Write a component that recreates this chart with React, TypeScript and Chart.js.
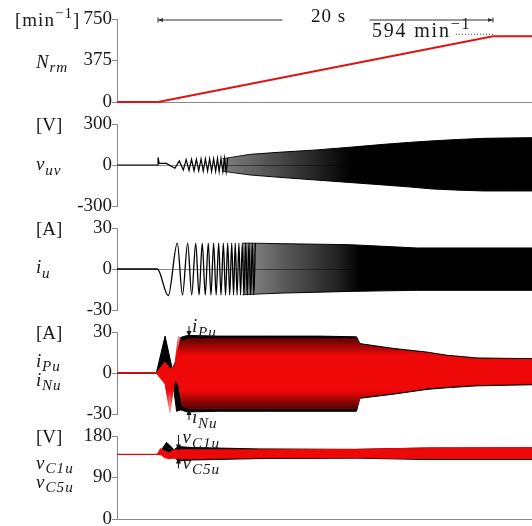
import React, { useEffect, useRef } from 'react';
import { Chart, registerables } from 'chart.js';
Chart.register(...registerables);

// ---------- time axis (seconds) ----------
const X_MAX = 24.78;
const RAMP_START = 2.45;
const RAMP_END = 22.45;
const N_PEAK = 594;

// ---------- panel 1: N_rm [min^-1] ----------
const NRM_T = [0, 2.45, 22.45, 24.78];
const NRM_V = [0, 0, 594, 594];
const NRM_TICKS = [0, 375, 750];

// ---------- panel 2: v_uv [V] ----------
const VUV_WAVE_T = [0, 2.45, 2.45, 2.52, 2.95, 3.46, 3.72, 3.96, 4.13, 4.30, 4.45, 4.60, 4.74, 4.88, 5.02, 5.15, 5.28, 5.41, 5.53, 5.65, 5.77, 5.89, 6.00, 6.10, 6.21, 6.32, 6.42, 6.52, 6.62];
const VUV_WAVE_V = [0, 0, 55, 12, 12, -24, 30, -36, 40, -40, 42, -42, 42, -42, 44, -44, 44, -44, 46, -46, 46, -46, 48, -48, 48, -48, 50, -50, 50];
const VUV_ENV_T = [6.30, 7.94, 9.90, 11.90, 13.90, 15.90, 17.40, 18.90, 20.40, 21.90, 23.40, 24.78];
const VUV_ENV_HI = [46, 78, 95, 110, 130, 151, 165, 177, 187, 195, 198, 200];
const VUV_ENV_LO = [-46, -73, -92, -110, -128, -146, -160, -176, -184, -190, -190, -190];
const VUV_TICKS = [-300, 0, 300];

// ---------- panel 3: i_u [A] ----------
const IU_WAVE_T = [0, 2.41, 3.06, 3.60, 3.91, 4.22, 4.46, 4.70, 4.90, 5.09, 5.27, 5.45, 5.61, 5.77, 5.92, 6.07, 6.21, 6.35, 6.48, 6.61, 6.73, 6.85, 6.96, 7.06, 7.17, 7.28, 7.38, 7.48, 7.58, 7.68, 7.78, 7.88, 7.98, 8.08, 8.17, 8.26];
const IU_WAVE_V = [0, 0, -19.5, 19, -19, 19, -19, 19, -19, 19, -19, 19, -19, 19, -19, 19, -19, 19, -19, 19, -19, 19, -19, 19, -19, 19, -19, 19, -19, 19, -19, 19, -19, 19, -19, 19];
const IU_ENV_T = [7.5, 9.9, 13.9, 15.9, 17.9, 24.78];
const IU_ENV_HI = [19.0, 18.5, 17.8, 16.6, 15.4, 15.4];
const IU_ENV_LO = [-18.8, -17.6, -16.4, -16.0, -15.6, -15.6];
const IU_TICKS = [-30, 0, 30];

// ---------- panel 4: i_Pu (black), i_Nu (red) [A] ----------
const IPU_T = [0, 2.35, 2.87, 3.30, 3.56, 3.80, 4.20, 6.00, 9.00, 12.00, 14.30, 14.50, 16.50, 18.50, 19.70, 21.50, 24.78];
const IPU_HI = [0, 0, 27, 3, 10, 26, 27.5, 27, 27, 27, 26.5, 21.5, 18, 15.3, 13, 11, 10.5];
const IPU_LO = [0, 0, 0, -3, -28, -27, -28.5, -28, -28, -28, -28, -18.5, -15.5, -12, -10.8, -9.4, -8.6];
const INU_T = [0, 2.35, 2.60, 2.87, 3.16, 3.45, 3.66, 3.90, 4.20, 6.00, 9.00, 12.00, 14.30, 14.50, 16.50, 18.50, 19.70, 21.50, 24.78];
const INU_HI = [0, 0, 4, 8, 3, 5, 27, 23, 25, 25, 25, 25, 25, 20.7, 17.1, 14.6, 12.2, 10.2, 9.8];
const INU_LO = [0, 0, -4, -8, -29, -5, -8, -24, -26, -26, -26, -26, -26, -17.6, -14.6, -11, -9.8, -8.5, -7.8];
const IPN_TICKS = [-30, 0, 30];

// ---------- panel 5: v_C1u (black), v_C5u (red) [V] ----------
const VC1_T = [0, 2.55, 2.75, 2.95, 3.15, 3.40, 3.65, 4.50, 8.50, 14.30, 18.50, 24.78];
const VC1_HI = [140, 140, 155, 166, 160, 150, 157, 155, 152, 151, 154, 154];
const VC1_LO = [140, 140, 140, 141, 140, 134, 126, 128, 131, 132, 129, 129];
const VC5_T = [0, 2.40, 2.60, 2.85, 3.10, 3.40, 3.70, 4.50, 8.50, 14.30, 18.50, 24.78];
const VC5_HI = [140, 140, 153, 147, 143, 150, 150, 150, 150, 151, 154, 155];
const VC5_LO = [140, 140, 140, 133, 131, 132, 130, 131, 133, 133, 131, 131];
const VC_TICKS = [0, 90, 180];

// annotation positions (seconds)
const IPN_ARROW_T = 4.3;
const VC_ARROW_T = 3.67;

const RED = 'rgb(238,8,8)';
const BLACK = '#000';
const GRAY = '#8a8a8a';
const FONT = '"Liberation Serif", "DejaVu Serif", serif';
const PAD = 22;

const pts = (t: number[], v: number[]) => t.map((x, i) => ({ x, y: v[i] }));

function line(t: number[], v: number[], color: string, width: number, extra: any = {}) {
  return { data: pts(t, v), borderColor: color, borderWidth: width, pointRadius: 0, fill: false, tension: 0, clip: false, ...extra };
}
function band(t: number[], hi: number[], lo: number[], color: any, fillColor: any, order: number) {
  return [
    { data: pts(t, hi), borderColor: color, borderWidth: 1, pointRadius: 0, fill: '+1', backgroundColor: fillColor, order, clip: false },
    { data: pts(t, lo), borderColor: color, borderWidth: 1, pointRadius: 0, fill: false, order, clip: false },
  ];
}
// horizontal shading of a dense band (lines get denser with time)
function hGrad(chart: any, stops: number[][], boost = 0) {
  const { ctx, chartArea, scales } = chart;
  if (!chartArea || !scales || !scales.x) return 'rgba(0,0,0,1)';
  const t0 = stops[0][0], t1 = stops[stops.length - 1][0];
  const g = ctx.createLinearGradient(scales.x.getPixelForValue(t0), 0, scales.x.getPixelForValue(t1), 0);
  for (const [t, a] of stops) g.addColorStop((t - t0) / (t1 - t0), `rgba(0,0,0,${Math.min(1, a + boost)})`);
  return g;
}
// vertical shading of the red trace: solid core, mixed fringe
function vRed(chart: any, outer: number, inner: number) {
  const { ctx, chartArea, scales } = chart;
  if (!chartArea || !scales || !scales.y) return RED;
  const y0 = scales.y.getPixelForValue(outer), y1 = scales.y.getPixelForValue(-outer);
  const g = ctx.createLinearGradient(0, y0, 0, y1);
  const f = (outer - inner) / (2 * outer);
  g.addColorStop(0, 'rgba(238,8,8,0.3)');
  g.addColorStop(f, 'rgba(238,8,8,1)');
  g.addColorStop(1 - f, 'rgba(238,8,8,1)');
  g.addColorStop(1, 'rgba(238,8,8,0.3)');
  return g;
}
const VUV_SHADE = [[6.3, 0.5], [9.5, 0.7], [12.5, 0.9], [14.0, 1]];
const IU_SHADE = [[7.5, 0.45], [10, 0.65], [13, 0.85], [14.5, 1]];

type Part = { t: string; i?: boolean; pos?: 'sub' | 'sup' };
function drawMath(ctx: CanvasRenderingContext2D, x: number, y: number, parts: Part[], size = 19, spacing = 0) {
  let cx = x;
  ctx.fillStyle = '#1a1a1a';
  ctx.textBaseline = 'alphabetic';
  ctx.textAlign = 'left';
  for (const p of parts) {
    const s = p.pos ? size * 0.8 : size;
    const dy = p.pos === 'sub' ? size * 0.24 : p.pos === 'sup' ? -size * 0.42 : 0;
    ctx.font = `${p.i ? 'italic ' : ''}${s}px ${FONT}`;
    (ctx as any).letterSpacing = `${spacing}px`;
    ctx.fillText(p.t, cx, y + dy);
    cx += ctx.measureText(p.t).width;
  }
  (ctx as any).letterSpacing = '0px';
}
function vArrow(ctx: CanvasRenderingContext2D, x: number, y0: number, y1: number) {
  ctx.beginPath();
  ctx.moveTo(x, y0);
  ctx.lineTo(x, y1);
  ctx.stroke();
  const d = y1 > y0 ? 1 : -1;
  ctx.beginPath();
  ctx.moveTo(x, y1);
  ctx.lineTo(x - 2.5, y1 - d * 6);
  ctx.lineTo(x + 2.5, y1 - d * 6);
  ctx.closePath();
  ctx.fill();
}

type Panel = {
  top: number; bottom: number; min: number; max: number; ticks: number[];
  datasets: any[]; annotate: (chart: any) => void;
};

const PANELS: Panel[] = [
  {
    top: 19, bottom: 102, min: 0, max: 750, ticks: NRM_TICKS,
    datasets: [line(NRM_T, NRM_V, 'rgb(222,20,20)', 2.2)],
    annotate: (chart) => {
      const ctx: CanvasRenderingContext2D = chart.ctx;
      const xs = chart.scales.x, ys = chart.scales.y;
      drawMath(ctx, 15, ys.getPixelForValue(750) + 6.5, [{ t: '[min' }, { t: '−1', pos: 'sup' }, { t: ']' }], 19, 1);
      drawMath(ctx, 36, ys.getPixelForValue(375) + 7, [{ t: 'N', i: true }, { t: 'rm', i: true, pos: 'sub' }], 19, 0.8);
      // 20 s dimension arrow
      const x0 = xs.getPixelForValue(RAMP_START), x1 = xs.getPixelForValue(RAMP_END);
      const y = ys.getPixelForValue(750) + 1;
      const mid = (x0 + x1) / 2;
      ctx.save();
      ctx.strokeStyle = '#333';
      ctx.fillStyle = '#333';
      ctx.lineWidth = 1;
      ctx.beginPath();
      ctx.moveTo(x0, y); ctx.lineTo(mid - 43, y);
      ctx.moveTo(mid + 44, y); ctx.lineTo(x1, y);
      ctx.moveTo(x0, y - 2.5); ctx.lineTo(x0, y + 2.5);
      ctx.moveTo(x1, y - 2.5); ctx.lineTo(x1, y + 2.5);
      ctx.stroke();
      ctx.beginPath(); ctx.moveTo(x0, y); ctx.lineTo(x0 + 5, y - 2); ctx.lineTo(x0 + 5, y + 2); ctx.closePath(); ctx.fill();
      ctx.beginPath(); ctx.moveTo(x1, y); ctx.lineTo(x1 - 5, y - 2); ctx.lineTo(x1 - 5, y + 2); ctx.closePath(); ctx.fill();
      ctx.font = `19px ${FONT}`;
      ctx.fillStyle = '#1a1a1a';
      ctx.textAlign = 'center';
      ctx.textBaseline = 'alphabetic';
      (ctx as any).letterSpacing = '1px';
      ctx.fillText('20 s', mid + 3, y + 2);
      (ctx as any).letterSpacing = '0px';
      // dotted level line at peak speed
      const yp = ys.getPixelForValue(N_PEAK) - 2;
      ctx.setLineDash([1, 2]);
      ctx.strokeStyle = '#444';
      ctx.beginPath(); ctx.moveTo(x1 - 37, yp); ctx.lineTo(x1, yp); ctx.stroke();
      ctx.setLineDash([]);
      drawMath(ctx, 372, yp + 3, [{ t: String(N_PEAK) + ' min' }, { t: '−1', pos: 'sup' }], 20, 1.8);
      ctx.restore();
    },
  },
  {
    top: 124, bottom: 206, min: -300, max: 300, ticks: VUV_TICKS,
    datasets: [
      line(VUV_WAVE_T, VUV_WAVE_V, BLACK, 1.2),
      ...band(VUV_ENV_T, VUV_ENV_HI, VUV_ENV_LO,
        (c: any) => hGrad(c.chart, VUV_SHADE, 0.3),
        (c: any) => hGrad(c.chart, VUV_SHADE), 0),
    ],
    annotate: (chart) => {
      const ctx = chart.ctx, ys = chart.scales.y;
      drawMath(ctx, 36, ys.getPixelForValue(300) + 6.5, [{ t: '[V]' }]);
      drawMath(ctx, 36, ys.getPixelForValue(0) + 5, [{ t: 'v', i: true }, { t: 'uv', i: true, pos: 'sub' }], 19, 0.8);
    },
  },
  {
    top: 228, bottom: 310, min: -30, max: 30, ticks: IU_TICKS,
    datasets: [
      line(IU_WAVE_T, IU_WAVE_V, BLACK, 1.3, { cubicInterpolationMode: 'monotone' }),
      ...band(IU_ENV_T, IU_ENV_HI, IU_ENV_LO,
        (c: any) => hGrad(c.chart, IU_SHADE, 0.35),
        (c: any) => hGrad(c.chart, IU_SHADE), 0),
    ],
    annotate: (chart) => {
      const ctx = chart.ctx, ys = chart.scales.y;
      drawMath(ctx, 36, ys.getPixelForValue(30) + 6.5, [{ t: '[A]' }]);
      drawMath(ctx, 36, ys.getPixelForValue(0) + 4, [{ t: 'i', i: true }, { t: 'u', i: true, pos: 'sub' }], 19, 0.8);
    },
  },
  {
    top: 332, bottom: 414, min: -30, max: 30, ticks: IPN_TICKS,
    datasets: [
      ...band(IPU_T, IPU_HI, IPU_LO, BLACK, BLACK, 2),
      ...band(INU_T, INU_HI, INU_LO, (c: any) => vRed(c.chart, 27, 13), (c: any) => vRed(c.chart, 27, 13), 1),
    ],
    annotate: (chart) => {
      const ctx: CanvasRenderingContext2D = chart.ctx, ys = chart.scales.y, xs = chart.scales.x;
      drawMath(ctx, 36, ys.getPixelForValue(30) + 7, [{ t: '[A]' }]);
      drawMath(ctx, 36, ys.getPixelForValue(0) - 6.5, [{ t: 'i', i: true }, { t: 'Pu', i: true, pos: 'sub' }], 19, 0.8);
      drawMath(ctx, 36, ys.getPixelForValue(0) + 12.5, [{ t: 'i', i: true }, { t: 'Nu', i: true, pos: 'sub' }], 19, 0.8);
      const x = xs.getPixelForValue(IPN_ARROW_T);
      const yt = ys.getPixelForValue(30), yb = ys.getPixelForValue(-30);
      ctx.save();
      ctx.strokeStyle = '#111'; ctx.fillStyle = '#111'; ctx.lineWidth = 1;
      vArrow(ctx, x, yt - 6, yt + 5);
      vArrow(ctx, x, yb + 6, yb - 5);
      drawMath(ctx, x + 3, yt, [{ t: 'i', i: true }, { t: 'Pu', i: true, pos: 'sub' }], 19, 0.8);
      drawMath(ctx, x + 3, yb + 9, [{ t: 'i', i: true }, { t: 'Nu', i: true, pos: 'sub' }], 19, 0.8);
      ctx.restore();
    },
  },
  {
    top: 436, bottom: 519, min: 0, max: 180, ticks: VC_TICKS,
    datasets: [
      ...band(VC1_T, VC1_HI, VC1_LO, BLACK, BLACK, 2),
      ...band(VC5_T, VC5_HI, VC5_LO, RED, RED, 1),
    ],
    annotate: (chart) => {
      const ctx: CanvasRenderingContext2D = chart.ctx, ys = chart.scales.y, xs = chart.scales.x;
      drawMath(ctx, 36, ys.getPixelForValue(180) + 7, [{ t: '[V]' }]);
      drawMath(ctx, 36, ys.getPixelForValue(90) - 9, [{ t: 'v', i: true }, { t: 'C1u', i: true, pos: 'sub' }], 19, 1);
      drawMath(ctx, 36, ys.getPixelForValue(90) + 10, [{ t: 'v', i: true }, { t: 'C5u', i: true, pos: 'sub' }], 19, 1);
      const x = xs.getPixelForValue(VC_ARROW_T);
      const yt = ys.getPixelForValue(180), ym = ys.getPixelForValue(140);
      ctx.save();
      ctx.strokeStyle = '#111'; ctx.fillStyle = '#111'; ctx.lineWidth = 1;
      vArrow(ctx, x, yt - 1, ym - 4);
      vArrow(ctx, x, ym + 14, ym + 3);
      drawMath(ctx, x + 4, yt + 7, [{ t: 'v', i: true }, { t: 'C1u', i: true, pos: 'sub' }], 19, 1);
      drawMath(ctx, x + 4, ym + 15, [{ t: 'v', i: true }, { t: 'C5u', i: true, pos: 'sub' }], 19, 1);
      ctx.restore();
    },
  },
];

function PanelChart({ panel }: { panel: Panel }) {
  const ref = useRef<HTMLCanvasElement>(null);
  useEffect(() => {
    const chart = new Chart(ref.current as HTMLCanvasElement, {
      type: 'line',
      data: { datasets: panel.datasets },
      options: {
        responsive: false,
        animation: false,
        devicePixelRatio: 1,
        events: [],
        layout: { padding: { top: PAD, bottom: PAD, left: 0, right: 0 } },
        plugins: { legend: { display: false }, tooltip: { enabled: false } },
        scales: {
          x: { type: 'linear', min: 0, max: X_MAX, display: false },
          y: {
            type: 'linear',
            min: panel.min,
            max: panel.max,
            afterBuildTicks: (s: any) => { s.ticks = panel.ticks.map((v) => ({ value: v })); },
            afterFit: (s: any) => { s.width = 117; },
            ticks: {
              autoSkip: false,
              padding: 0,
              color: '#1a1a1a',
              font: { family: FONT, size: 19 },
              callback: (v: any) => String(v),
            },
            grid: {
              drawOnChartArea: true,
              color: (c: any) => (c.tick && c.tick.value === 0 ? GRAY : 'rgba(0,0,0,0)'),
              tickColor: GRAY,
              tickLength: 5,
              lineWidth: 1,
            },
            border: { color: GRAY, width: 1 },
          },
        },
      } as any,
      plugins: [{ id: 'annot', afterDraw: (c: any) => panel.annotate(c) }],
    });
    return () => chart.destroy();
  }, []);
  return (
    <canvas
      ref={ref}
      width={532}
      height={panel.bottom - panel.top + 2 * PAD}
      style={{ position: 'absolute', left: 0, top: panel.top - PAD }}
    />
  );
}

export default function App() {
  return (
    <div style={{ position: 'absolute', left: 0, top: 0, width: 532, height: 526, overflow: 'hidden', background: '#fff' }}>
      {PANELS.map((p, i) => <PanelChart key={i} panel={p} />)}
    </div>
  );
}
